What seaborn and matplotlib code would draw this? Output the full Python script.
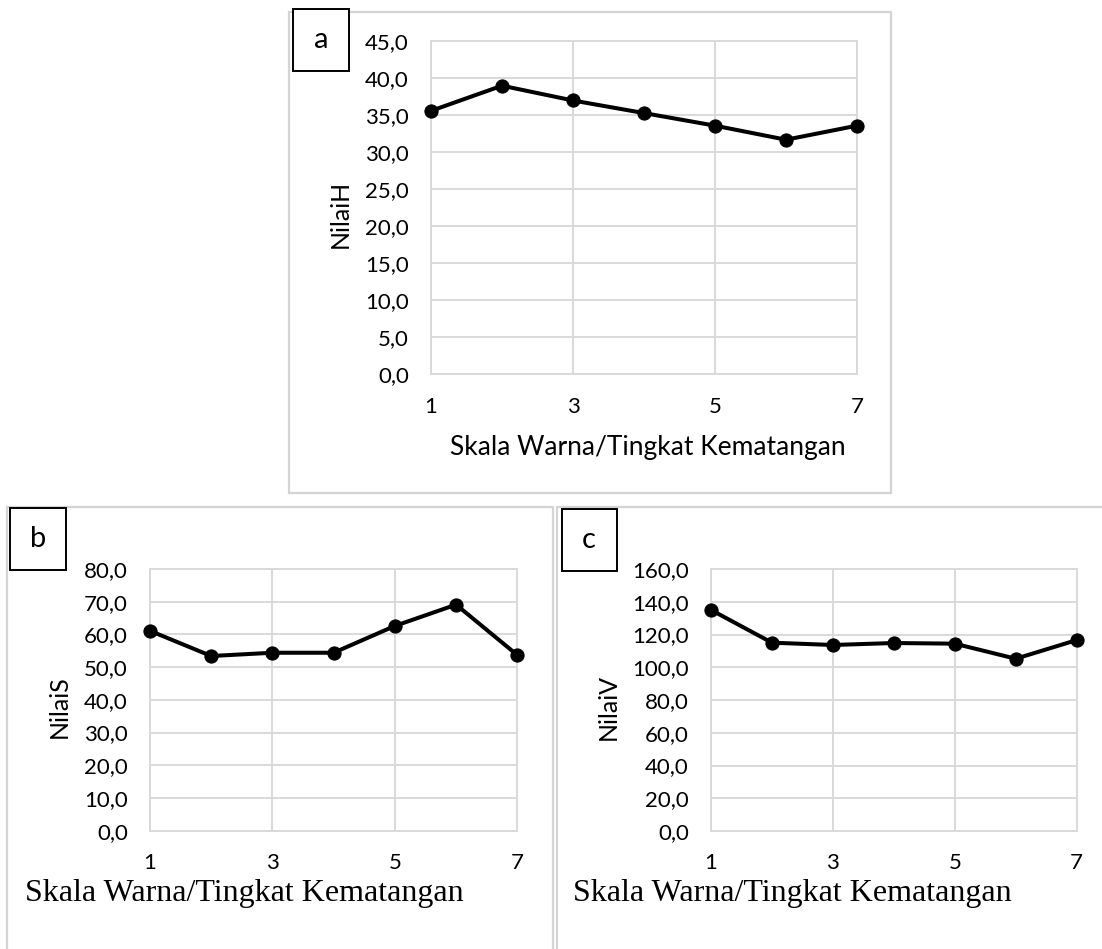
import matplotlib
matplotlib.use("Agg")
import matplotlib.pyplot as plt
from matplotlib.patches import Rectangle
from matplotlib.ticker import FuncFormatter, FixedLocator, MultipleLocator
import seaborn as sns
import pandas as pd

# ---- data ----
skala = [1, 2, 3, 4, 5, 6, 7]
nilai_h = [35.6, 39.0, 37.0, 35.3, 33.6, 31.7, 33.6]
nilai_s = [61.1, 53.4, 54.4, 54.4, 62.6, 69.1, 53.7]
nilai_v = [135.0, 115.0, 113.6, 114.8, 114.4, 105.2, 116.6]
x_ticks = [1, 3, 5, 7]
xlabel_text = "Skala Warna/Tingkat Kematangan"

sns.set_theme(style="white")
plt.rcParams['font.family'] = ['Lato', 'DejaVu Sans']

W, H = 1102, 949
fig = plt.figure(figsize=(W / 100, H / 100), dpi=100)
fig.patch.set_facecolor("white")

def fx(px):
    return px / W

def fy(py):
    return 1 - py / H

GRID = "#d9d9d9"
FRAME = "#d4d4d4"

def add_frame(x0, y0, x1, y1, color, lw):
    fig.patches.append(Rectangle((fx(x0), fy(y1)), fx(x1) - fx(x0), fy(y0) - fy(y1),
                                 transform=fig.transFigure, fill=False,
                                 edgecolor=color, linewidth=lw, zorder=0))

def label_box(x0, y0, x1, y1, letter):
    fig.patches.append(Rectangle((fx(x0), fy(y1)), fx(x1) - fx(x0), fy(y0) - fy(y1),
                                 transform=fig.transFigure, fill=True, facecolor="white",
                                 edgecolor="black", linewidth=1.4, zorder=5))
    fig.text(fx((x0 + x1) / 2), fy((y0 + y1) / 2), letter, ha="center", va="center",
             fontsize=21, color="black", zorder=6)

# outer panel frames
add_frame(289.3, 11.7, 891, 493.3, FRAME, 1.6)
add_frame(7.3, 506.7, 553.3, 960, FRAME, 1.6)
add_frame(556.7, 506.7, 1110, 960, FRAME, 1.6)

def make_axes(x0, y0, x1, y1, values, ymax, ystep, ylabel, ylab_x, ylab_y):
    ax = fig.add_axes([fx(x0), fy(y1), fx(x1) - fx(x0), fy(y0) - fy(y1)])
    df = pd.DataFrame({"x": skala, "y": values})
    sns.lineplot(data=df, x="x", y="y", ax=ax, color="black", linewidth=2.9,
                 marker="o", markersize=9.5, markeredgecolor="black",
                 markerfacecolor="black", clip_on=False, zorder=4)
    ax.set_xlim(1, 7)
    ax.set_ylim(0, ymax)
    ax.xaxis.set_major_locator(FixedLocator(x_ticks))
    ax.yaxis.set_major_locator(MultipleLocator(ystep))
    ax.yaxis.set_major_formatter(FuncFormatter(lambda v, p: f"{v:.1f}".replace(".", ",")))
    ax.grid(True, color=GRID, linewidth=1.4)
    ax.set_axisbelow(True)
    for s in ax.spines.values():
        s.set_color(GRID)
        s.set_linewidth(1.4)
    ax.tick_params(axis="both", length=0, labelsize=16, colors="black")
    ax.tick_params(axis="x", pad=16)
    ax.tick_params(axis="y", pad=16)
    ax.set_xlabel("")
    ax.set_ylabel("")
    fig.text(fx(ylab_x), fy(ylab_y), ylabel, rotation=90, ha="center", va="center",
             fontsize=18, color="black")
    return ax

make_axes(431, 41.3, 857, 374.3, nilai_h, 45, 5, "NilaiH", 340, 214)
make_axes(150, 569, 517.3, 830.7, nilai_s, 80, 10, "NilaiS", 59, 707)
make_axes(711, 569, 1076.7, 831, nilai_v, 160, 20, "NilaiV", 608, 707)

# x-axis titles
fig.text(fx(647.5), fy(455), xlabel_text, ha="center", va="baseline", fontsize=19,
         color="black")
fig.text(fx(25), fy(901), xlabel_text, ha="left", va="baseline", fontsize=23,
         color="black", family="Liberation Serif")
fig.text(fx(573), fy(901), xlabel_text, ha="left", va="baseline", fontsize=23,
         color="black", family="Liberation Serif")

# panel letter boxes
label_box(293.3, 8.7, 349, 71.3, "a")
label_box(10.3, 508, 66, 570, "b")
label_box(561.7, 508.7, 616.7, 570.7, "c")

fig.savefig("out.png", dpi=100, facecolor="white")
